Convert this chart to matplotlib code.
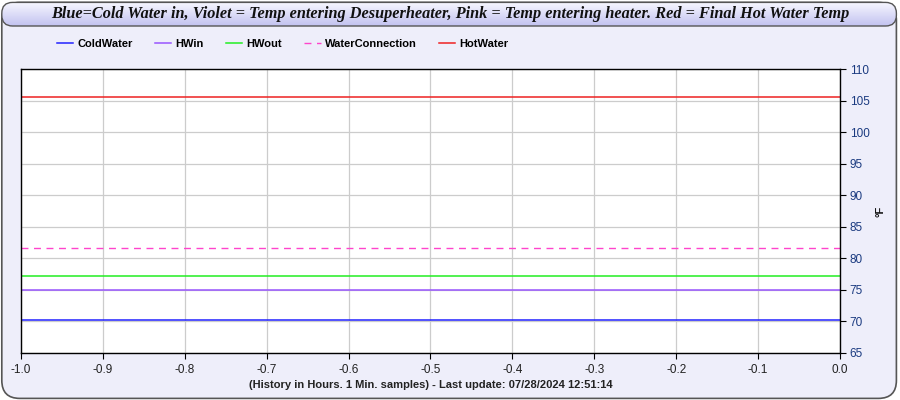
import numpy as np
import matplotlib
matplotlib.use('Agg')
import matplotlib.pyplot as plt
from matplotlib.patches import FancyBboxPatch

plt.rcParams['font.family'] = ['Liberation Sans', 'DejaVu Sans']

# history window in hours and the (flat) readings
hours = [-1.0, 0.0]
series_names = ['ColdWater', 'HWin', 'HWout', 'WaterConnection', 'HotWater']
cold_water = [70.15, 70.15]
hw_in = [75.0, 75.0]
hw_out = [77.15, 77.15]
water_conn = [81.6, 81.6]
hot_water = [105.5, 105.5]
x_ticks = [-1.0, -0.9, -0.8, -0.7, -0.6, -0.5, -0.4, -0.3, -0.2, -0.1, 0.0]
y_ticks = [65, 70, 75, 80, 85, 90, 95, 100, 105, 110]

title = ('Blue=Cold Water in, Violet = Temp entering Desuperheater, '
         'Pink = Temp entering heater. Red = Final Hot Water Temp')
xlabel = '(History in Hours. 1 Min. samples) - Last update: 07/28/2024 12:51:14'

bg = '#eeeefa'
fig = plt.figure(figsize=(9, 4), dpi=100, facecolor='white')

# outer rounded frame
frame = FancyBboxPatch((0.002, 0.004), 0.994, 0.99, boxstyle='round,pad=0,rounding_size=0.02',
                       transform=fig.transFigure, facecolor=bg, edgecolor='#555555', linewidth=1.2,
                       mutation_aspect=9 / 4, zorder=-10)
fig.patches.append(frame)

# title bar with a soft vertical gradient
tax = fig.add_axes([0, 0, 1, 1], zorder=-5)
tax.set_xlim(0, 1)
tax.set_ylim(0, 1)
tax.axis('off')
bar = FancyBboxPatch((0.002, 0.935), 0.994, 0.059, boxstyle='round,pad=0,rounding_size=0.012',
                     transform=tax.transAxes, facecolor='none', edgecolor='#555555', linewidth=1.0,
                     mutation_aspect=9 / 4)
tax.add_patch(bar)
grad = np.linspace(0, 1, 64).reshape(-1, 1)
top_c = np.array([0.97, 0.97, 1.0])
bot_c = np.array([0.76, 0.76, 0.94])
img = top_c * (1 - grad[..., None]) + bot_c * grad[..., None]
im = tax.imshow(img, extent=(0.002, 0.996, 0.935, 0.994), aspect='auto', origin='upper')
im.set_clip_path(bar)
tax.text(0.5, 0.965, title, ha='center', va='center', fontsize=11.7, fontweight='bold',
         fontstyle='italic', family=['Liberation Serif', 'DejaVu Serif'], color='#111111')

ax = fig.add_axes([0.0233, 0.1175, 0.91, 0.71])
ax.set_facecolor('white')

ax.plot(hours, cold_water, color='#2222ff', lw=1.1, label=series_names[0])
ax.plot(hours, hw_in, color='#9955ff', lw=1.1, label=series_names[1])
ax.plot(hours, hw_out, color='#22ee22', lw=1.1, label=series_names[2])
ax.plot(hours, water_conn, color='#ff44cc', lw=1.0, dashes=(5, 4), label=series_names[3])
ax.plot(hours, hot_water, color='#ee2222', lw=1.1, label=series_names[4])

ax.set_xlim(-1.0, 0.0)
ax.set_ylim(65, 110)
ax.set_xticks(x_ticks)
ax.set_xticklabels(['%.1f' % v for v in x_ticks])
ax.set_yticks(y_ticks)
ax.yaxis.tick_right()
ax.yaxis.set_label_position('right')
ax.grid(True, color='#cccccc', lw=0.9)
ax.set_axisbelow(True)

for s in ['top', 'right', 'bottom', 'left']:
    ax.spines[s].set_color('black')
    ax.spines[s].set_linewidth(1.0)
ax.tick_params(axis='y', colors='black', labelcolor='#1a3a80', labelsize=8.5, length=4, pad=3)
ax.tick_params(axis='x', colors='black', labelcolor='#222222', labelsize=8.5, length=4, pad=4)

ax.set_xlabel(xlabel, fontsize=8, fontweight='bold', color='#222222', labelpad=3)
ax.set_ylabel('°F', fontsize=8, fontweight='bold', color='#111111', rotation=90, labelpad=4)

fig.legend(loc='center left', bbox_to_anchor=(0.063, 0.89), ncol=5, frameon=False,
           prop={'size': 8, 'weight': 'bold'}, handlelength=1.45, handletextpad=0.4,
           columnspacing=2.0, borderpad=0, borderaxespad=0)

fig.savefig('out.png', dpi=100, facecolor=fig.get_facecolor())
